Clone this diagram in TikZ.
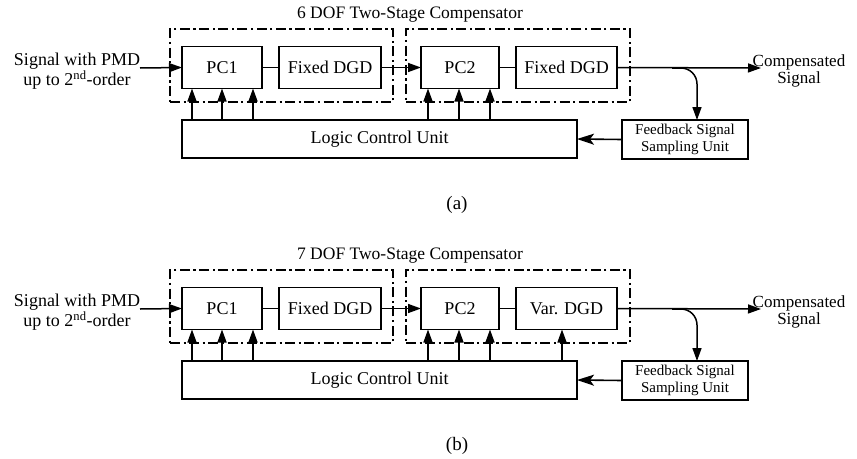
\documentclass[tikz,border=0pt]{standalone}
\usepackage{fontspec}
\setmainfont{Liberation Serif}
\usetikzlibrary{arrows.meta}

\tikzset{
  blk/.style={draw, line width=1.3pt, inner sep=0pt, outer sep=0pt,
              minimum height=42pt, font=\fontsize{18}{20}\selectfont},
  stage/.style={draw, line width=2pt, inner sep=0pt, outer sep=0pt,
                dash pattern=on 10pt off 3.5pt on 2.2pt off 3.5pt},
  wire/.style={line width=1.5pt},
  sig/.style={wire, -{Triangle[length=13pt,width=9pt]}},
  ret/.style={line width=1.6pt, -{Stealth[length=17pt,width=11pt,inset=4pt]}},
  lbl/.style={align=center, inner sep=0pt, font=\fontsize{18}{18}\selectfont},
}

% One compensator panel: #1 prefix, #2 vertical offset, #3 title,
% #4 label of the second DGD element, #5 panel tag
\newcommand{\compensator}[5]{%
  \begin{scope}[yshift=-#2pt]
    % dashed stage frames
    \node[stage, minimum width=223pt, minimum height=73pt] (#1s1) at (281.5,65.5) {};
    \node[stage, minimum width=224pt, minimum height=73pt] (#1s2) at (518,65.5) {};
    \node[lbl, font=\fontsize{17.5}{18}\selectfont] (#1title) at (410,15) {#3};
    % optical blocks
    \node[blk, minimum width=80pt]  (#1pc1)  at (222,67.5)   {PC1};
    \node[blk, minimum width=102pt] (#1dgd1) at (330,67.5)   {Fixed DGD};
    \node[blk, minimum width=78pt]  (#1pc2)  at (460,67.5)   {PC2};
    \node[blk, minimum width=101pt] (#1dgd2) at (566.5,67.5) {#4};
    % control and feedback
    \node[blk, minimum width=395pt, minimum height=38pt] (#1lcu) at (379.5,139) {Logic Control Unit};
    \node[blk, minimum width=126pt, minimum height=39pt, align=center,
          font=\fontsize{15}{17}\selectfont] (#1fb) at (685,139.5)
          {Feedback Signal\\Sampling Unit};
    % input and output
    \node[lbl] (#1in) at (77,71) {Signal with PMD\\up to 2\textsuperscript{nd}-order};
    \coordinate (#1src) at (140,68);
    \coordinate (#1out) at (761,68);
    \coordinate (#1tap) at (672,68);
    \coordinate (#1fbin) at (697,120);
    \node[lbl, font=\fontsize{17}{17}\selectfont] (#1outl) at (799,71) {Compensated\\Signal};
    \node[lbl, font=\fontsize{19}{19}\selectfont] (#1tag) at (457,205) {#5};
    % signal path
    \draw[sig] (#1src) -- (#1pc1.west);
    \draw[wire] (#1pc1.east) -- (#1dgd1.west);
    \draw[sig] (#1dgd1.east) -- (#1pc2.west);
    \draw[wire] (#1pc2.east) -- (#1dgd2.west);
    \draw[sig] (#1dgd2.east) -- (#1out);
    \draw[sig, rounded corners=16pt] (#1tap) -| (#1fbin);
    \draw[ret] (#1fb.west) -- (#1lcu.east);
    % control lines
    \foreach \x in {192,222,253} {\draw[sig] (\x,120) -- (\x,88.5);}
    \foreach \x in {428,459,490} {\draw[sig] (\x,120) -- (\x,88.5);}
  \end{scope}%
}

\begin{document}
\begin{tikzpicture}[x=1pt,y=-1pt]
  \useasboundingbox (0,0) rectangle (857,458);
  \compensator{a}{0}{6 DOF Two-Stage Compensator}{Fixed DGD}{(a)}
  \compensator{b}{241}{7 DOF Two-Stage Compensator}{Var. DGD}{(b)}
  % extra control line to the variable DGD
  \coordinate (bvc) at (562,361);
  \draw[sig] (bvc) -- (bvc |- bdgd2.south);
\end{tikzpicture}
\end{document}
